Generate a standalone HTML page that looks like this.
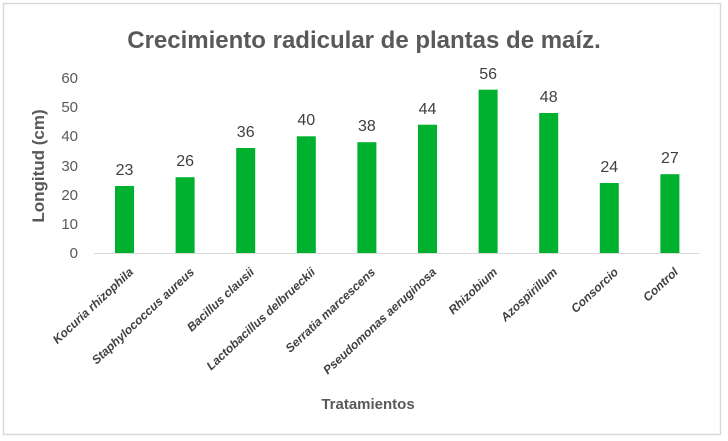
<!DOCTYPE html>
<html><head><meta charset="utf-8"><style>body{margin:0;background:#fff}svg{display:block}</style></head><body>
<svg width="728" height="441" xmlns="http://www.w3.org/2000/svg" font-family="Liberation Sans, sans-serif">
<rect x="0" y="0" width="728" height="441" fill="#fff"/>
<rect x="3.5" y="3.5" width="717" height="431" fill="#fff" stroke="#d9d9d9" stroke-width="1.5"/>
<text x="364" y="48" text-anchor="middle" font-size="24" font-weight="bold" fill="#595959">Crecimiento radicular de plantas de maíz.</text>
<g font-size="15" fill="#595959" text-anchor="end">
<text x="78" y="258">0</text><text x="78" y="229">10</text><text x="78" y="200">20</text><text x="78" y="171">30</text><text x="78" y="141">40</text><text x="78" y="112">50</text><text x="78" y="83">60</text>
</g>
<text transform="translate(44,166) rotate(-90)" text-anchor="middle" font-size="17" font-weight="bold" fill="#595959">Longitud  (cm)</text>
<line x1="94" y1="253.5" x2="700" y2="253.5" stroke="#d9d9d9" stroke-width="1"/>
<g fill="#00b02f">
<rect x="115" y="186" width="19" height="67"/>
<rect x="175.6" y="177.2" width="19" height="75.8"/>
<rect x="236.2" y="148" width="19" height="105"/>
<rect x="296.8" y="136.3" width="19" height="116.7"/>
<rect x="357.4" y="142.2" width="19" height="110.8"/>
<rect x="418" y="124.7" width="19" height="128.3"/>
<rect x="478.6" y="89.7" width="19" height="163.3"/>
<rect x="539.2" y="113" width="19" height="140"/>
<rect x="599.8" y="183" width="19" height="70"/>
<rect x="660.4" y="174.2" width="19" height="78.8"/>
</g>
<g font-size="16" fill="#404040" text-anchor="middle">
<text x="124.5" y="175">23</text><text x="185.1" y="166">26</text><text x="245.7" y="137">36</text><text x="306.3" y="125">40</text><text x="366.9" y="131">38</text><text x="427.5" y="114">44</text><text x="488.1" y="79">56</text><text x="548.7" y="102">48</text><text x="609.3" y="172">24</text><text x="669.9" y="163">27</text>
</g>
<g font-size="12" font-style="italic" font-weight="bold" fill="#404040" text-anchor="end">
<text transform="translate(134,273) rotate(-43)">Kocuria rhizophila</text>
<text transform="translate(195,273) rotate(-43)">Staphylococcus aureus</text>
<text transform="translate(255,273) rotate(-43)">Bacillus clausii</text>
<text transform="translate(316,273) rotate(-43)">Lactobacillus delbrueckii</text>
<text transform="translate(376,273) rotate(-43)">Serratia marcescens</text>
<text transform="translate(437,273) rotate(-43)">Pseudomonas aeruginosa</text>
<text transform="translate(498,273) rotate(-43)">Rhizobium</text>
<text transform="translate(558,273) rotate(-43)">Azospirillum</text>
<text transform="translate(619,273) rotate(-43)">Consorcio</text>
<text transform="translate(679,273) rotate(-43)">Control</text>
</g>
<text x="368" y="409" text-anchor="middle" font-size="15" font-weight="bold" fill="#595959">Tratamientos</text>
</svg>
</body></html>
